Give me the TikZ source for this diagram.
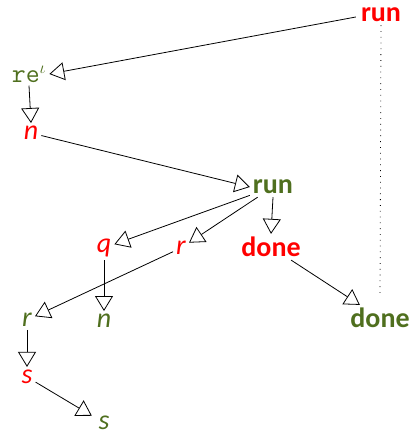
\documentclass[tikz,border=0pt]{standalone}
\usepackage{fontspec}
\setsansfont{Carlito}
\usetikzlibrary{arrows.meta}
\definecolor{rred}{RGB}{255,0,0}
\definecolor{ggreen}{RGB}{79,111,30}
\begin{document}
\begin{tikzpicture}[x=1pt,y=-1pt,
  lbl/.style={font=\sffamily\fontsize{28}{30}\selectfont, inner sep=3pt},
  bl/.style={lbl, font=\sffamily\bfseries\fontsize{28}{30}\selectfont},
  it/.style={lbl, font=\sffamily\itshape\fontsize{28}{30}\selectfont},
  rd/.style={text=rred}, gr/.style={text=ggreen},
  arr/.style={-{Triangle[open,length=15pt,width=18pt]}, line width=0.8pt}]
\useasboundingbox (0,0) rectangle (414,437);
\node[bl,rd] (run1) at (381,15) {run};
\node[lbl,gr,font=\ttfamily\fontsize{27}{29}\selectfont] (re) at (29,74) {re$^{\iota}$};
\node[it,rd] (n1) at (31,133) {n};
\node[bl,gr] (run2) at (273,187) {run};
\node[it,rd] (q) at (104,248) {q};
\node[it,rd] (r1) at (181,248) {r};
\node[bl,rd] (done1) at (271,247) {done};
\node[it,gr] (r2) at (27,320) {r};
\node[it,gr] (n2) at (104,321) {n};
\node[bl,gr] (done2) at (380,318) {done};
\node[it,rd] (s1) at (27,377) {s};
\node[it,gr,inner sep=0.5pt] (s2) at (104,423) {s};
\draw[arr] (run1.west) ++(-2,2) coordinate (a1) -- (re.east);
\draw[arr] (re.south) -- (n1.north);
\draw[arr] (n1) -- (run2.west);
\draw[arr] (run2.south) -- (done1.north);
\draw[arr] (run2) -- (q);
\draw[arr] (run2) -- (r1);
\draw[arr] (r1) -- (r2);
\draw[arr] (q.south) -- (n2.north);
\draw[arr] (done1) -- (done2);
\draw[arr] (r2.south) -- (s1.north);
\draw[arr, shorten >=7pt] (s1) -- (s2);
\draw[line width=0.8pt, dash pattern=on 0.8pt off 5pt, shorten >=10pt] (run1.south) -- (done2.north);
\end{tikzpicture}
\end{document}
